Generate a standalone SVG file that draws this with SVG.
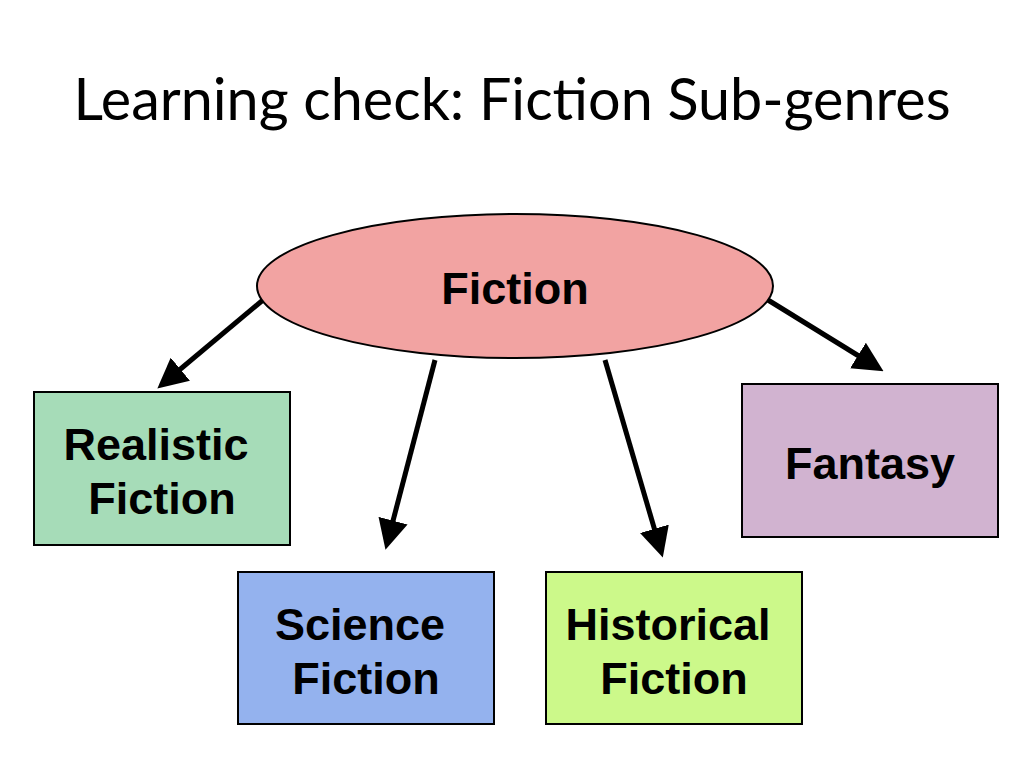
<svg xmlns="http://www.w3.org/2000/svg" width="1024" height="768" viewBox="0 0 1024 768">
<style>
.box{stroke:#000;stroke-width:2}
.lbl{font-family:"Liberation Sans",Arial,sans-serif;font-weight:bold;font-size:45px;text-anchor:middle;fill:#000}
.ar{stroke:#000;stroke-width:5;fill:none;marker-end:url(#ah)}
</style>
<defs><marker id="ah" markerWidth="6" markerHeight="6" refX="4" refY="3" orient="auto"><path d="M0,0 L6,3 L0,6 Z" fill="#000"/></marker></defs>
<rect width="1024" height="768" fill="#fff"/>
<text x="512" y="120" font-family="Lato,'Noto Sans',sans-serif" font-size="57.5" text-anchor="middle">Learning check: Fiction Sub-genres</text>
<g id="connectors">
<line class="ar" x1="263" y1="300" x2="165" y2="382"/>
<line class="ar" x1="435" y1="360" x2="388" y2="540"/>
<line class="ar" x1="605" y1="360" x2="660" y2="548"/>
<line class="ar" x1="768" y1="300" x2="875" y2="366"/>
</g>
<g id="fiction"><ellipse class="box" cx="515" cy="286" rx="258" ry="72" fill="#f2a3a2"/><text class="lbl" x="515" y="304">Fiction</text></g>
<g id="realistic"><rect class="box" x="34" y="392" width="256" height="153" fill="#a6dcb8"/><text class="lbl" x="156" y="460">Realistic</text><text class="lbl" x="162" y="514">Fiction</text></g>
<g id="science"><rect class="box" x="238" y="572" width="256" height="152" fill="#94b2ee"/><text class="lbl" x="360" y="640">Science</text><text class="lbl" x="366" y="694">Fiction</text></g>
<g id="historical"><rect class="box" x="546" y="572" width="256" height="152" fill="#ccf98a"/><text class="lbl" x="668" y="640">Historical</text><text class="lbl" x="674" y="694">Fiction</text></g>
<g id="fantasy"><rect class="box" x="742" y="384" width="256" height="153" fill="#d1b3d0"/><text class="lbl" x="870" y="479">Fantasy</text></g>
</svg>
